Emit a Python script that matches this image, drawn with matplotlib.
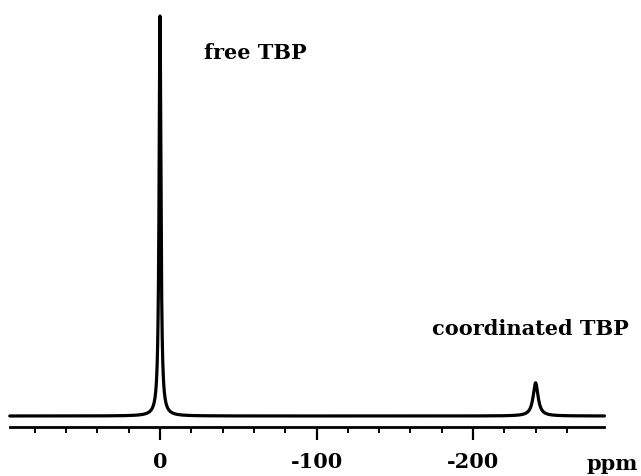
import matplotlib.pyplot as plt
import numpy as np

# peaks of the spectrum (ppm, relative height, half width in ppm)
peak_ppm = [0.0, -240.0]
peak_height = [100.0, 8.3]
peak_width = [0.7, 1.9]

peak_labels = ["free TBP", "coordinated TBP"]
label_ppm = [-61.0, -236.5]
label_y = [91.0, 22.0]

major_ticks = [0, -100, -200]
major_labels = ["0", "-100", "-200"]
minor_ticks = [80, 60, 40, 20, -20, -40, -60, -80, -120, -140, -160, -180,
               -220, -240, -260]

x_range = (96.0, -284.0)

plt.rcParams['font.family'] = ['DejaVu Serif']
fig = plt.figure(figsize=(6.41, 4.77), dpi=100)
ax = fig.add_axes([0, 49 / 477, 1, 428 / 477])

ppm = np.linspace(x_range[0], x_range[1], 40000)
intensity = np.zeros_like(ppm)
for p, h, w in zip(peak_ppm, peak_height, peak_width):
    intensity += h * w ** 2 / ((ppm - p) ** 2 + w ** 2)

ax.plot(ppm, intensity, color="black", linewidth=2.3, solid_capstyle="round")

for txt, px, py in zip(peak_labels, label_ppm, label_y):
    ax.text(px, py, txt, ha="center", va="center", fontsize=15, fontweight="bold")

ax.set_xlim(160 / 1.565, -(641 - 160) / 1.565)
ax.set_ylim(-2.75, 104.25)

for side in ["top", "left", "right"]:
    ax.spines[side].set_visible(False)
ax.spines["bottom"].set_bounds(x_range[0], x_range[1])
ax.spines["bottom"].set_linewidth(2.0)
ax.set_yticks([])
ax.set_xticks(major_ticks, major_labels, fontsize=15, fontweight="bold")
ax.set_xticks(minor_ticks, minor=True)
ax.tick_params(axis="x", which="major", direction="out", length=9, width=1.6, pad=8)
ax.tick_params(axis="x", which="minor", direction="out", length=4.5, width=1.4)

fig.text(638 / 641, 1 - 464 / 477, "ppm", ha="right", va="center",
         fontsize=15, fontweight="bold")

plt.savefig("out.png", dpi=100)
